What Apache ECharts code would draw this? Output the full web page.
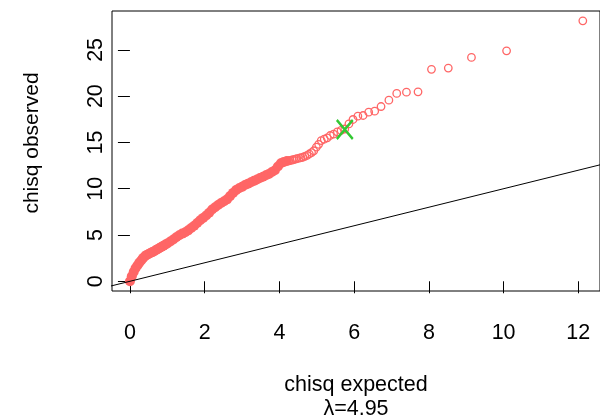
<!DOCTYPE html>
<html>
<head>
<meta charset="utf-8">
<script src="https://cdn.jsdelivr.net/npm/echarts@6/dist/echarts.min.js"></script>
<style>
    html, body { margin: 0; padding: 0; background: #fff; }
    #container { width: 600px; height: 416px; }
</style>
</head>
<body>
<div id="container"></div>
<script>
// qq-plot values
// dense part of the curve (circles overlap into a solid band)
var denseExpected = [0.00, 0.05, 0.10, 0.15, 0.20, 0.25, 0.30, 0.35, 0.40, 0.45,
    0.50, 0.55, 0.60, 0.65, 0.70, 0.75, 0.80, 0.85, 0.90, 0.95, 1.00,
    1.08, 1.16, 1.24, 1.32, 1.40, 1.48, 1.56, 1.64, 1.72, 1.80,
    1.88, 1.96, 2.04, 2.12, 2.20, 2.28, 2.36, 2.44, 2.52, 2.60,
    2.68, 2.76, 2.84, 2.92, 3.00, 3.08, 3.16, 3.24, 3.32, 3.40,
    3.48, 3.56, 3.64, 3.72, 3.80, 3.88, 3.96, 4.04, 4.12, 4.20];
var denseObserved = [0.0, 0.55, 1.0, 1.4, 1.7, 2.0, 2.25, 2.5, 2.7, 2.85,
    2.95, 3.05, 3.15, 3.25, 3.38, 3.5, 3.62, 3.73, 3.85, 3.97, 4.08,
    4.3, 4.52, 4.75, 4.98, 5.15, 5.3, 5.5, 5.75, 6.0, 6.3,
    6.6, 6.85, 7.1, 7.4, 7.75, 8.0, 8.25, 8.45, 8.65, 8.85,
    9.2, 9.55, 9.85, 10.05, 10.2, 10.4, 10.55, 10.7, 10.85, 11.0,
    11.15, 11.3, 11.45, 11.6, 11.8, 12.0, 12.4, 12.75, 12.9, 13.0];
// upper tail, single circles
var tailExpected = [4.25, 4.29, 4.34, 4.38, 4.43, 4.47, 4.53, 4.58, 4.63, 4.68,
    4.74, 4.80, 4.86, 4.92, 4.99, 5.05, 5.12, 5.20, 5.28, 5.36,
    5.45, 5.55, 5.65, 5.75, 5.86, 5.97, 6.10, 6.24, 6.39, 6.55,
    6.72, 6.93, 7.14, 7.40, 7.71, 8.07, 8.52, 9.14, 10.08, 12.12];
var tailObserved = [13.0, 13.05, 13.1, 13.15, 13.2, 13.25, 13.3, 13.35, 13.4, 13.5,
    13.6, 13.75, 13.9, 14.1, 14.5, 14.8, 15.2, 15.35, 15.5, 15.75,
    15.9, 16.15, 16.3, 16.45, 17.0, 17.48, 17.84, 17.91, 18.27, 18.38,
    18.88, 19.57, 20.29, 20.43, 20.47, 22.9, 23.03, 24.18, 24.9, 28.14];
// highlighted point (green X)
var markExpected = [5.75];
var markObserved = [16.4];
// y = x reference line
var refLine = [[-1, -1], [13, 13]];
var xTicks = [0, 2, 4, 6, 8, 10, 12];
var yTicks = [0, 5, 10, 15, 20, 25];
var lambda = 4.95;

var zip = function (xs, ys) {
    var out = [];
    for (var i = 0; i < xs.length; i++) {
        out.push([xs[i], ys[i]]);
    }
    return out;
};

var font = 'Liberation Sans, Arial, sans-serif';
var ptColor = '#FF6666';

var dom = document.getElementById('container');
var myChart = echarts.init(dom, null, {renderer: 'canvas'});

var option = {
    animation: false,
    backgroundColor: '#fff',
    grid: {
        left: 112,
        top: 11,
        width: 488,
        height: 280,
        outerBoundsMode: 'none',
        containLabel: false,
        show: true,
        borderColor: '#000',
        borderWidth: 1
    },
    xAxis: {
        type: 'value',
        min: -0.48,
        max: 12.58,
        name: 'chisq expected\nλ=' + lambda,
        nameLocation: 'middle',
        nameGap: 82,
        nameTextStyle: {color: '#000', fontFamily: font, fontSize: 21.5, lineHeight: 24},
        axisLine: {show: false},
        axisTick: {show: true, inside: false, length: 12, customValues: xTicks,
            lineStyle: {color: '#000', width: 1}},
        axisLabel: {customValues: xTicks, margin: 31, color: '#000',
            fontFamily: font, fontSize: 21.5},
        splitLine: {show: false}
    },
    yAxis: {
        type: 'value',
        min: -1.05,
        max: 29.2,
        name: 'chisq observed',
        nameLocation: 'middle',
        nameGap: 69,
        nameTextStyle: {color: '#000', fontFamily: font, fontSize: 21, padding: [0, 0, 0, 16]},
        axisLine: {show: false},
        axisTick: {show: true, inside: false, length: 12, customValues: yTicks,
            lineStyle: {color: '#000', width: 1}},
        axisLabel: {customValues: yTicks, rotate: 90, margin: 5, color: '#000',
            fontFamily: font, fontSize: 21.5},
        splitLine: {show: false}
    },
    series: [
        {
            name: 'dense',
            type: 'scatter',
            symbol: 'circle',
            symbolSize: 10,
            itemStyle: {color: ptColor, opacity: 1},
            data: zip(denseExpected, denseObserved),
            z: 2
        },
        {
            name: 'tail',
            type: 'scatter',
            symbol: 'circle',
            symbolSize: 7.5,
            itemStyle: {color: 'rgba(0,0,0,0)', borderColor: ptColor, borderWidth: 1.3, opacity: 1},
            data: zip(tailExpected, tailObserved),
            z: 2
        },
        {
            name: 'y=x',
            type: 'line',
            data: refLine,
            symbol: 'none',
            clip: true,
            lineStyle: {color: '#000', width: 1},
            z: 3
        },
        {
            name: 'mark',
            type: 'scatter',
            symbol: 'path://M0,0L10,10M10,0L0,10',
            symbolSize: [16, 19],
            itemStyle: {color: 'none', borderColor: '#33C833', borderWidth: 2.5, opacity: 1},
            data: zip(markExpected, markObserved),
            z: 4
        }
    ]
};

if (option && typeof option === 'object') {
    myChart.setOption(option);
}
</script>
</body>
</html>
